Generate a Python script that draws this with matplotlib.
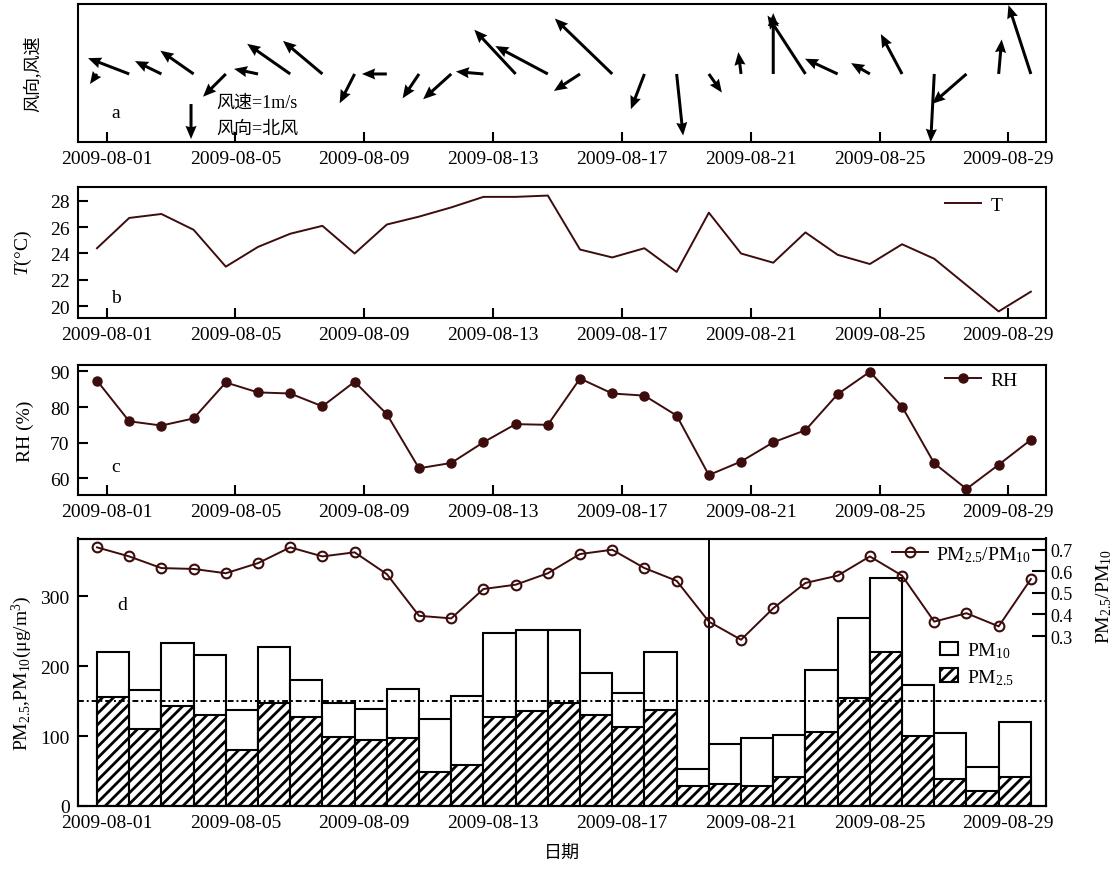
import numpy as np
import matplotlib
matplotlib.use("Agg")
import matplotlib.pyplot as plt
from matplotlib.patches import Patch

plt.rcParams['font.family'] = ['Liberation Serif', 'Noto Sans CJK SC']
plt.rcParams['mathtext.fontset'] = 'custom'
plt.rcParams['mathtext.rm'] = 'Liberation Serif'
plt.rcParams['mathtext.it'] = 'Liberation Serif:italic'
plt.rcParams['hatch.linewidth'] = 2.0
plt.rcParams['axes.linewidth'] = 1.5


tick_labels = ['2009-08-01', '2009-08-05', '2009-08-09', '2009-08-13',
               '2009-08-17', '2009-08-21', '2009-08-25', '2009-08-29']

# wind speed (m/s) and direction the wind blows from (deg)
wind_speed = [0.35, 1.26, 0.84, 1.16, 0.92, 0.70, 1.50, 1.47, 0.94, 0.71,
              0.84, 1.08, 0.79, 1.73, 1.70, 0.89, 2.28, 1.08, 1.77, 0.65,
              0.63, 1.74, 1.99, 1.03, 0.62, 1.29, 1.95, 1.30, 0.99, 2.07]
wind_dir = [35, 111, 116, 125, 45, 102, 125, 130, 27, 90,
            34, 48, 95, 137, 118, 57, 134, 21, 354, 325,
            173, 180, 147, 115, 120, 152, 3, 49, 185, 162]

temp = [24.4, 26.7, 27.0, 25.8, 23.0, 24.5, 25.5, 26.1, 24.0, 26.2,
        26.8, 27.5, 28.3, 28.3, 28.4, 24.3, 23.7, 24.4, 22.6, 27.1,
        24.0, 23.3, 25.6, 23.9, 23.2, 24.7, 23.6, 21.6, 19.6, 21.1]

rh = [87.4, 76.0, 74.8, 76.8, 86.9, 84.1, 83.8, 80.2, 87.1, 78.0,
      62.8, 64.3, 70.1, 75.2, 75.0, 88.0, 83.8, 83.2, 77.6, 60.9,
      64.7, 70.1, 73.5, 83.6, 89.9, 80.1, 64.2, 57.0, 63.8, 70.8]

pm10 = [221, 166, 233, 216, 137, 228, 180, 147, 139, 167,
        124, 158, 248, 252, 252, 190, 162, 221, 53, 89,
        97, 101, 195, 269, 327, 173, 104, 56, 120]
pm25 = [156, 110, 143, 130, 80, 148, 128, 99, 94, 97,
        48, 59, 128, 136, 147, 130, 113, 137, 29, 32,
        28, 42, 106, 155, 220, 100, 38, 22, 41]

ratio = [0.711, 0.669, 0.615, 0.611, 0.591, 0.638, 0.711, 0.669, 0.688, 0.587,
         0.394, 0.382, 0.518, 0.538, 0.591, 0.680, 0.700, 0.615, 0.556, 0.367,
         0.283, 0.429, 0.546, 0.580, 0.669, 0.580, 0.367, 0.406, 0.345, 0.564]

pm_limit = 150


W, H = 1119, 870
LINE = '#3d0c0c'
fig = plt.figure(figsize=(W / 100, H / 100), dpi=100)


def panel(top, bottom):
    # axes placed by pixel rows, all sharing the same horizontal extent
    return fig.add_axes([78 / W, 1 - bottom / H, 968 / W, (bottom - top) / H])


days = np.arange(len(temp))
tick_pos = 0.3 + 4 * np.arange(len(tick_labels))


def style(ax):
    ax.set_xlim(-0.59, 29.47)
    ax.set_xticks(tick_pos)
    ax.set_xticklabels(tick_labels)
    ax.tick_params(direction='in', length=7, width=1.5, labelsize=14, pad=6)


def letter(ax, x, frac, s):
    lo, hi = ax.get_ylim()
    ax.text(x, lo + frac * (hi - lo), s, fontsize=14, ha='center', va='center')


# a: wind vectors
ax_a = panel(5, 143)
style(ax_a)
spd = np.array(wind_speed)
rad = np.deg2rad(wind_dir)
u = -spd * np.sin(rad)
v = -spd * np.cos(rad)
qkw = dict(angles='uv', scale_units='inches', scale=1 / 0.35, units='dots',
           width=3, headwidth=3.7, headlength=4.4, headaxislength=4.0,
           pivot='tail', color='black')
ax_a.quiver(days, np.full(len(days), 0.493), u, v, **qkw)
ax_a.quiver([2.92], [0.275], [0], [-1], **qkw)
ax_a.set_ylim(0, 1)
ax_a.tick_params(axis='y', left=False, labelleft=False)
ax_a.text(3.7, 0.29, '风速=1m/s', fontsize=13, va='center')
ax_a.text(3.7, 0.098, '风向=北风', fontsize=13, va='center')
letter(ax_a, 0.59, 0.217, 'a')
ax_a.set_ylabel('风向,风速', fontsize=13)
ax_a.yaxis.set_label_coords(-0.037, 0.5)

# b: temperature
ax_b = panel(188, 319)
style(ax_b)
ax_b.plot(days, temp, color=LINE, lw=1.4, label='T')
ax_b.set_ylim(19.1, 29.05)
ax_b.set_yticks([20, 22, 24, 26, 28])
letter(ax_b, 0.59, 0.153, 'b')
ax_b.set_ylabel('$T$(°C)', fontsize=14)
ax_b.yaxis.set_label_coords(-0.045, 0.5)
ax_b.legend(loc='center left', bbox_to_anchor=(0.8957, 0.8626), frameon=False,
            fontsize=14, handlelength=1.85, handletextpad=0.5,
            borderpad=0, borderaxespad=0)

# c: relative humidity
ax_c = panel(366, 496)
style(ax_c)
ax_c.plot(days, rh, color=LINE, lw=1.4, marker='o', ms=6.5, label='RH')
ax_c.set_ylim(55.3, 91.8)
ax_c.set_yticks([60, 70, 80, 90])
letter(ax_c, 0.59, 0.223, 'c')
ax_c.set_ylabel('RH (%)', fontsize=14)
ax_c.yaxis.set_label_coords(-0.045, 0.5)
ax_c.legend(loc='center left', bbox_to_anchor=(0.8957, 0.885), frameon=False,
            fontsize=14, handlelength=1.85, handletextpad=0.5,
            borderpad=0, borderaxespad=0)

# d: particulate matter and the PM2.5/PM10 ratio
ax_d = panel(539.5, 807)
style(ax_d)
ax_d.tick_params(axis='x', length=0)
bar_x = np.arange(len(pm10))
ax_d.bar(bar_x, pm10, width=1, align='edge', facecolor='white',
         edgecolor='black', lw=1.5)
ax_d.bar(bar_x, pm25, width=1, align='edge', facecolor='white',
         edgecolor='black', hatch='///', lw=1.5)
ax_d.axhline(pm_limit, color='black', lw=1.4, ls=(0, (3, 1.5, 1, 1.5)))
ax_d.axvline(19, color='black', lw=1.4)
ax_d.set_ylim(0, 383)
ax_d.set_yticks([0, 100, 200, 300])
letter(ax_d, 0.78, 0.755, 'd')
ax_d.set_ylabel('PM$_{2.5}$,PM$_{10}$(μg/m$^3$)', fontsize=14)
ax_d.yaxis.set_label_coords(-0.045, 0.5)
ax_d.set_xlabel('日期', fontsize=13)
ax_d.xaxis.set_label_coords(0.5, -0.146)
ax_d.legend(handles=[Patch(facecolor='white', edgecolor='black', lw=1.5, label='PM$_{10}$'),
                     Patch(facecolor='white', edgecolor='black', lw=1.5, hatch='///',
                           label='PM$_{2.5}$')],
            loc='center left', bbox_to_anchor=(0.8905, 0.533), frameon=False,
            fontsize=14, handlelength=0.9, handleheight=0.7, handletextpad=0.5,
            labelspacing=0.35, borderpad=0, borderaxespad=0)

ax_r = ax_d.twinx()
ax_r.plot(days, ratio, color=LINE, lw=1.4, marker='o', ms=7, mfc='none',
          mec=LINE, mew=1.5, label='PM$_{2.5}$/PM$_{10}$')
ax_r.set_ylim(-0.487, 0.752)
ax_r.set_yticks([0.3, 0.4, 0.5, 0.6, 0.7])
ax_r.tick_params(direction='in', length=10, width=1.5, labelsize=13)
ax_r.set_ylabel('PM$_{2.5}$/PM$_{10}$', fontsize=14)
ax_r.yaxis.set_label_coords(1.0496, 0.785)
ax_r.legend(loc='center left', bbox_to_anchor=(0.841, 0.942), frameon=False,
            fontsize=14, handlelength=1.85, handletextpad=0.4,
            borderpad=0, borderaxespad=0)

fig.savefig('out.png', dpi=100)
